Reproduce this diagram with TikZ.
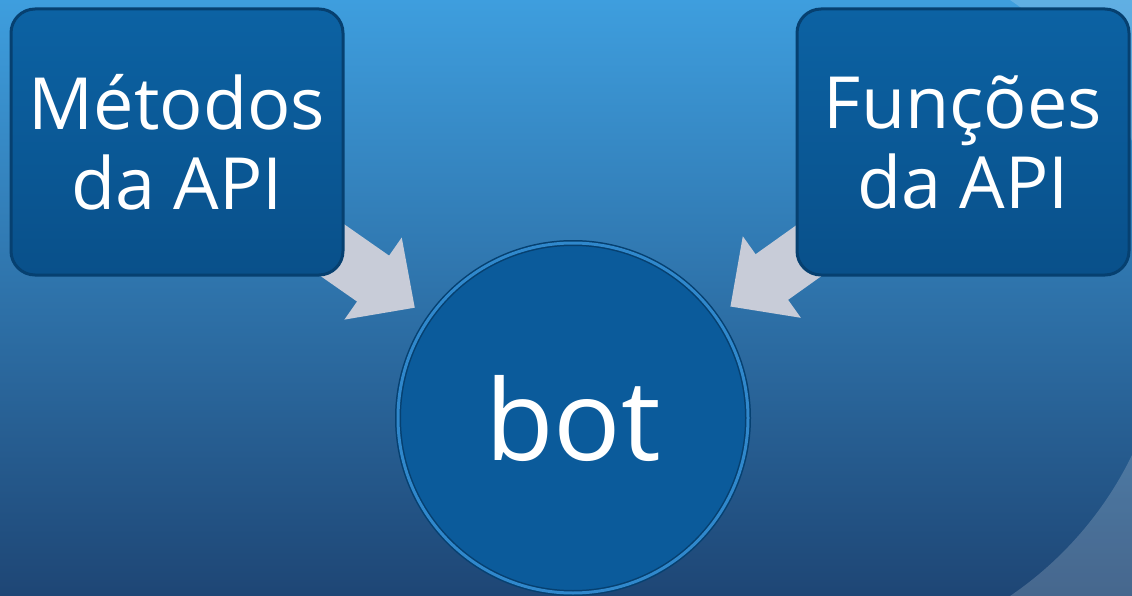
\documentclass[tikz,border=0pt]{standalone}
\usepackage{fontspec}
\setmainfont{Open Sans}
\usepackage{xcolor}
\usetikzlibrary{arrows.meta}
\definecolor{skytop}{RGB}{62,158,222}
\definecolor{skymid}{RGB}{44,110,168}
\definecolor{skybot}{RGB}{30,70,117}
\definecolor{boxtop}{RGB}{12,98,163}
\definecolor{boxbot}{RGB}{9,80,138}
\definecolor{boxedge}{RGB}{6,64,112}
\definecolor{botfill}{RGB}{11,91,155}
\definecolor{rimlight}{RGB}{48,136,204}
\definecolor{arrowgrey}{RGB}{200,204,216}
\def\bigtext{\fontsize{72}{80}\selectfont}
\def\hugetext{\fontsize{112}{120}\selectfont}
\pgfdeclarelayer{bg}
\pgfdeclarelayer{links}
\pgfsetlayers{bg,links,main}

\begin{document}
\begin{tikzpicture}[x=1pt,y=-1pt,
					apibox/.style={rectangle,rounded corners=24pt,minimum width=332pt,minimum height=266pt,
						top color=boxtop,bottom color=boxbot,draw=boxedge,line width=3pt,
						text=white,align=center,font=\bigtext},
					botnode/.style={circle,minimum size=350pt,fill=botfill,draw=boxedge,line width=1.5pt,
						double=rimlight,double distance=3pt,text=white,font=\hugetext},
					flowarrow/.style={arrowgrey,line width=56pt,-{Triangle[length=51pt,width=97pt]}}]
				\useasboundingbox (0,0) rectangle (1132,596);
				\begin{pgfonlayer}{bg}
				\shade[top color=skytop,middle color=skymid,bottom color=skybot] (0,0) rectangle (1132,596);
				% lighter corner
				\begin{scope}
				\clip (960,0) rectangle (1132,596);
				\fill[white,opacity=0.18,even odd rule] (900,-20) rectangle (1200,700) (808,298) circle (360);
				\end{scope}
				\end{pgfonlayer}
				\node[apibox] (metodos) at (177,142) {Métodos\\da API};
				\node[apibox] (funcoes) at (963,142) {Funções\\da API};
				\node[botnode] (bot) at (573,418) {bot};
				\begin{pgfonlayer}{links}
				\draw[flowarrow,shorten <=-40pt,shorten >=17pt] (metodos) -- (bot);
				\draw[flowarrow,shorten <=-40pt,shorten >=17pt] (funcoes) -- (bot);
				\end{pgfonlayer}
			\end{tikzpicture}
\end{document}
